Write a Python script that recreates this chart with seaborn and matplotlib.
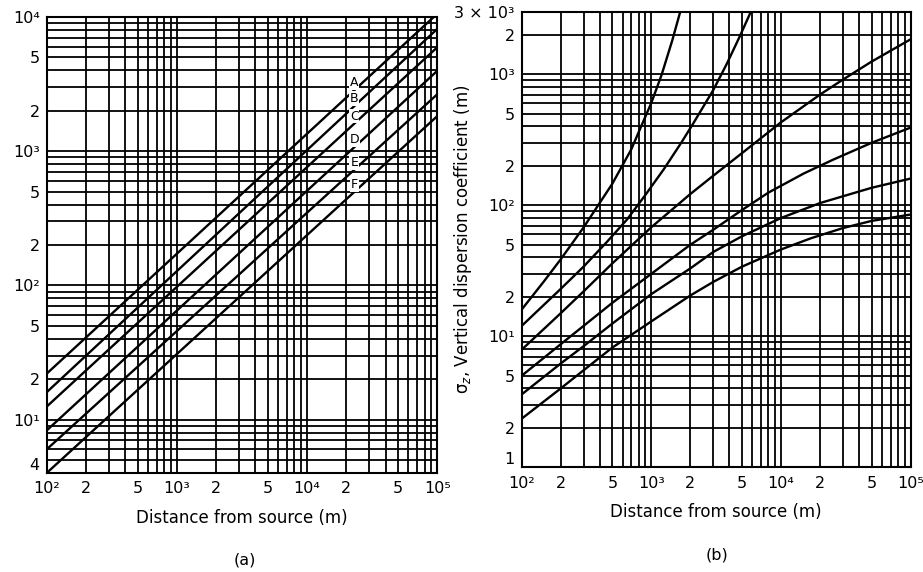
import numpy as np
import pandas as pd
import matplotlib
matplotlib.use("Agg")
import matplotlib.pyplot as plt
import seaborn as sns

sns.set_style("white")
plt.rcParams['font.family'] = ['DejaVu Sans']
plt.rcParams.update({"text.color": "black", "axes.labelcolor": "black"})

# (a) horizontal dispersion coefficient, straight lines on log-log paper
classes = ["A", "B", "C", "D", "E", "F"]
sy_x = [1e2, 1e5]
sy_A = [22, 10600]
sy_B = [16, 8170]
sy_C = [12.5, 5960]
sy_D = [8.3, 3980]
sy_E = [6.0, 2660]
sy_F = [4.0, 1830]

# (b) vertical dispersion coefficient
sz_A_x = [100, 150, 200, 300, 500, 700, 1000, 1200, 1450, 1670]
sz_A = [16, 26.6, 38.7, 67.7, 146, 267, 606, 991, 1815, 3000]
sz_B_x = [100, 200, 300, 450, 650, 900, 1250, 1700, 2100, 3000, 3800, 4800, 5850]
sz_B = [12, 23, 34, 52, 78, 120, 189, 300, 420, 757, 1190, 1940, 3000]
sz_C_x = [100, 200, 300, 500, 1000, 2000, 3000, 5000, 10000, 20000, 30000, 50000, 100000]
sz_C = [7.9, 15, 22, 36, 68, 122, 168, 250, 430, 700, 910, 1250, 1850]
sz_D_x = [100, 200, 300, 500, 1000, 2000, 3000, 5000, 8000, 15000, 25000, 50000, 100000]
sz_D = [5.0, 8.7, 12, 18, 30, 50, 65, 92, 125, 175, 222, 300, 392]
sz_E_x = [100, 200, 300, 500, 1000, 2000, 3000, 5000, 10000, 20000, 50000, 100000]
sz_E = [3.6, 6.2, 8.4, 12.5, 21, 33, 44, 58, 80, 104, 136, 160]
sz_F_x = [100, 200, 300, 500, 1000, 2000, 3000, 5000, 10000, 17000, 30000, 50000, 100000]
sz_F = [2.35, 4.0, 5.5, 8.2, 13, 20.5, 26, 34, 46, 56, 67, 76, 85]

# tick labels (grid lines sit on every 1..9 multiple)
x_tick_labels = {1e2: "10²", 2e2: "2", 5e2: "5", 1e3: "10³", 2e3: "2", 5e3: "5",
                 1e4: "10⁴", 2e4: "2", 5e4: "5", 1e5: "10⁵"}
ya_tick_labels = {4: "4", 10: "10¹", 20: "2", 50: "5", 100: "10²", 200: "2", 500: "5",
                  1000: "10³", 2000: "2", 5000: "5", 1e4: "10⁴"}
yb_tick_labels = {1: "1", 2: "2", 5: "5", 10: "10¹", 20: "2", 50: "5", 100: "10²",
                  200: "2", 500: "5", 1000: "10³", 2000: "2", 3000: "3 × 10³"}

xlabel = "Distance from source (m)"
ylabel_b = r"σ$_z$, Vertical dispersion coefficient (m)"


def log_grid(lo, hi):
    vals = [m * 10.0 ** e for e in range(-1, 7) for m in range(1, 10)]
    return [v for v in vals if lo * 0.999 <= v <= hi * 1.001]


def style_axis(ax, xlim, ylim, ylabels):
    ax.set_xscale("log")
    ax.set_yscale("log")
    ax.set_xlim(*xlim)
    ax.set_ylim(*ylim)
    xt = log_grid(*xlim)
    yt = log_grid(*ylim)
    ax.set_xticks(xt)
    ax.set_xticklabels([x_tick_labels.get(v, "") for v in xt])
    ax.set_yticks(yt)
    ax.set_yticklabels([ylabels.get(v, "") for v in yt])
    ax.minorticks_off()
    ax.tick_params(length=0, labelsize=11.5, colors="black")
    ax.tick_params(axis="x", pad=6)
    ax.tick_params(axis="y", pad=5)
    # lowest y label sits just above the corner, as in the original
    ax.get_yticklabels()[0].set_va("bottom")
    ax.grid(True, which="major", color="black", lw=1.3)
    for s in ax.spines.values():
        s.set_color("black")
        s.set_linewidth(1.5)
    ax.set_xlabel(xlabel, fontsize=12, labelpad=9)
    ax.set_ylabel("")


fig = plt.figure(figsize=(9.23, 5.72), dpi=100)
ax1 = fig.add_axes([0.0506, 0.1731, 0.4232, 0.797])
ax2 = fig.add_axes([0.5652, 0.1830, 0.4215, 0.7965])

# panel (a)
sy_vals = [sy_A, sy_B, sy_C, sy_D, sy_E, sy_F]
df_a = pd.DataFrame([(c, x, y) for c, ys in zip(classes, sy_vals) for x, y in zip(sy_x, ys)],
                    columns=["cls", "x", "sigma"])
ax1.set(xscale="log", yscale="log")
sns.lineplot(data=df_a, x="x", y="sigma", hue="cls", palette=["black"] * 6,
             estimator=None, legend=False, lw=1.7, ax=ax1)
style_axis(ax1, (1e2, 1e5), (4, 1e4), ya_tick_labels)

# class letters on the lines
x_lab = 2.3e4
for c, ys in zip(classes, sy_vals):
    ly = np.interp(np.log10(x_lab), np.log10(sy_x), np.log10(ys))
    ax1.text(x_lab, 10 ** ly * 1.14, c, fontsize=9, ha="center", va="center",
             bbox=dict(facecolor="white", edgecolor="none", pad=0.6), zorder=5)

# panel (b)
sz_xs = [sz_A_x, sz_B_x, sz_C_x, sz_D_x, sz_E_x, sz_F_x]
sz_vals = [sz_A, sz_B, sz_C, sz_D, sz_E, sz_F]
df_b = pd.DataFrame([(c, x, y) for c, xs, ys in zip(classes, sz_xs, sz_vals)
                     for x, y in zip(xs, ys)], columns=["cls", "x", "sigma"])
ax2.set(xscale="log", yscale="log")
sns.lineplot(data=df_b, x="x", y="sigma", hue="cls", palette=["black"] * 6,
             estimator=None, legend=False, lw=1.7, ax=ax2)
style_axis(ax2, (1e2, 1e5), (1, 3000), yb_tick_labels)
ax2.set_ylabel(ylabel_b, fontsize=12)
ax2.yaxis.set_label_coords(-0.123, 0.5)

fig.text(0.2655, 0.021, "(a)", fontsize=11.5, ha="center", va="center")
fig.text(0.7765, 0.030, "(b)", fontsize=11.5, ha="center", va="center")

fig.savefig("out.png", dpi=100)
